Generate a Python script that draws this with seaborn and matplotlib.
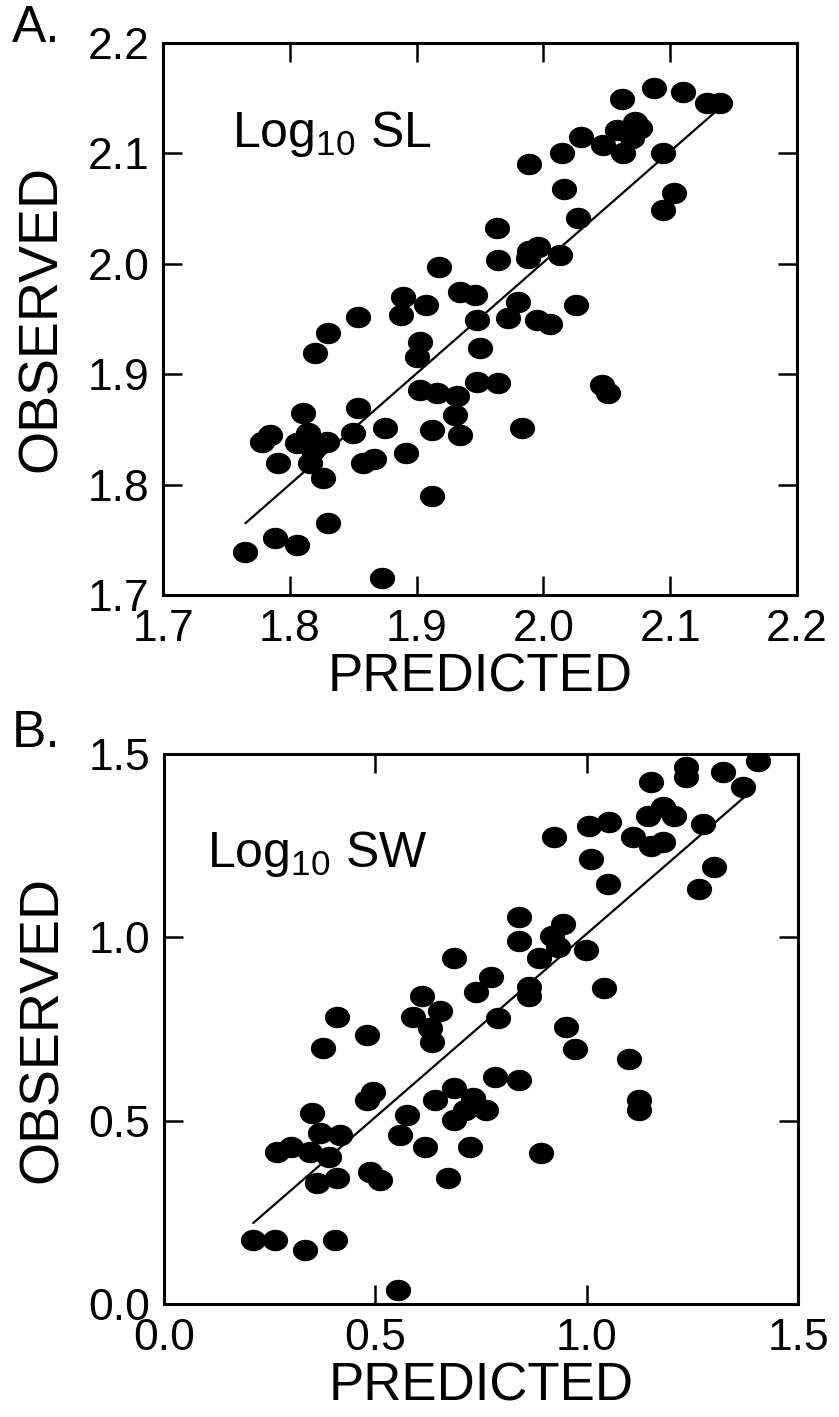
import numpy as np
import matplotlib
matplotlib.use("Agg")
import matplotlib.pyplot as plt
from matplotlib.path import Path
import seaborn as sns
import pandas as pd

# panel A: log10 SL, predicted vs observed
sl_pred = [1.765, 1.788, 1.806, 1.830, 1.873, 1.912, 1.778, 1.784, 1.810, 1.806,
           1.814, 1.829, 1.818, 1.791, 1.816, 1.826, 1.820, 1.830, 1.854, 1.850,
           1.875, 1.858, 1.866, 1.892, 1.854, 1.888, 1.889, 1.907, 1.918, 1.903,
           1.900, 1.903, 1.916, 1.932, 1.930, 1.912, 1.934, 1.934, 1.946, 1.948,
           1.950, 1.948, 1.964, 1.983, 1.972, 1.980, 1.995, 2.005, 2.026, 1.963,
           1.964, 1.989, 1.996, 1.988, 2.013, 2.016, 2.027, 1.989, 2.015, 2.030,
           2.047, 2.058, 2.072, 2.076, 2.070, 2.063, 2.062, 2.087, 2.110, 2.129,
           2.139, 2.094, 2.103, 2.094, 2.046, 2.051]
sl_obs = [1.739, 1.752, 1.745, 1.765, 1.715, 1.790, 1.839, 1.845, 1.865, 1.838,
          1.847, 1.839, 1.831, 1.820, 1.820, 1.806, 1.919, 1.937, 1.869, 1.847,
          1.851, 1.820, 1.823, 1.829, 1.952, 1.954, 1.970, 1.963, 1.997, 1.929,
          1.916, 1.886, 1.883, 1.880, 1.863, 1.849, 1.845, 1.974, 1.972, 1.949,
          1.924, 1.893, 1.892, 1.851, 1.951, 1.965, 1.949, 1.945, 1.963, 2.032,
          2.003, 2.012, 2.015, 2.005, 2.008, 2.068, 2.041, 2.090, 2.100, 2.115,
          2.108, 2.121, 2.128, 2.123, 2.114, 2.100, 2.149, 2.159, 2.156, 2.146,
          2.146, 2.100, 2.064, 2.049, 1.890, 1.883]
sl_line_x = [1.765, 2.135]
sl_line_y = [1.765, 2.137]

# panel B: log10 SW
sw_pred = [0.922, 1.152, 1.235, 1.235, 1.322, 1.405, 1.370, 1.145, 1.180, 1.206,
           1.109, 1.152, 1.180, 1.005, 1.052, 1.275, 1.009, 1.050, 1.301, 1.265,
           0.839, 0.839, 0.945, 0.919, 0.931, 0.998, 0.886, 0.685, 0.773, 0.737,
           0.863, 0.863, 1.040, 0.789, 0.950, 0.972, 1.100, 1.123, 1.123, 0.784,
           0.839, 0.893, 0.410, 0.481, 0.611, 0.590, 0.654, 0.377, 0.635, 0.630,
           0.495, 0.481, 0.351, 0.370, 0.417, 0.268, 0.300, 0.345, 0.390, 0.363,
           0.410, 0.488, 0.512, 0.211, 0.263, 0.334, 0.405, 0.554, 0.576, 0.559,
           0.618, 0.642, 0.685, 0.685, 0.673, 0.725, 0.732, 0.761, 0.712]
sw_obs = [1.273, 1.423, 1.464, 1.437, 1.451, 1.481, 1.410, 1.331, 1.355, 1.331,
          1.273, 1.249, 1.260, 1.303, 1.314, 1.309, 1.213, 1.145, 1.191, 1.131,
          1.057, 0.989, 1.036, 1.003, 0.973, 0.967, 0.945, 0.945, 0.893, 0.850,
          0.866, 0.839, 0.863, 0.781, 0.757, 0.697, 0.669, 0.557, 0.530, 0.620,
          0.612, 0.413, 0.784, 0.735, 0.839, 0.784, 0.798, 0.699, 0.716, 0.754,
          0.579, 0.557, 0.522, 0.467, 0.462, 0.415, 0.428, 0.415, 0.402, 0.331,
          0.344, 0.361, 0.339, 0.175, 0.175, 0.148, 0.175, 0.038, 0.516, 0.462,
          0.429, 0.557, 0.590, 0.503, 0.344, 0.429, 0.563, 0.530, 0.530]
sw_line_x = [0.211, 1.372]
sw_line_y = [0.221, 1.382]

sns.set_theme(style="ticks")
plt.rcParams["font.family"] = ["Liberation Sans", "DejaVu Sans"]
plt.rcParams["mathtext.fontset"] = "custom"
plt.rcParams["mathtext.rm"] = "Liberation Sans"
plt.rcParams["mathtext.it"] = "Liberation Sans:italic"
plt.rcParams["text.color"] = "black"
plt.rcParams["axes.labelcolor"] = "black"

# slightly flattened dot, like the printed figure
t = np.linspace(0, 2 * np.pi, 60)
ellipse = Path(np.column_stack([np.cos(t), 0.85 * np.sin(t)]), closed=True)

fig = plt.figure(figsize=(8.39, 14.17), dpi=100)
ax_a = fig.add_axes([0.1943, 0.5801, 0.7557, 0.3896])
ax_b = fig.add_axes([0.1955, 0.0797, 0.7557, 0.3881])

panels = [
    (ax_a, sl_pred, sl_obs, sl_line_x, sl_line_y, "SL", (1.7, 2.2),
     np.arange(1.7, 2.21, 0.1), (0.109, 0.812), "A.", 0.9975),
    (ax_b, sw_pred, sw_obs, sw_line_x, sw_line_y, "SW", (0.0, 1.5),
     np.arange(0.0, 1.51, 0.5), (0.068, 0.795), "B.", 0.4995),
]

for ax, px, py, lx, ly, name, lim, ticks, tpos, letter, ly_fig in panels:
    df = pd.DataFrame({"pred": px, "obs": py})
    sns.lineplot(x=lx, y=ly, ax=ax, color="black", linewidth=1.6)
    sns.scatterplot(data=df, x="pred", y="obs", ax=ax, marker=ellipse, s=330,
                    color="black", edgecolor="black", linewidth=0, zorder=3)
    ax.set_xlim(*lim)
    ax.set_ylim(*lim)
    ax.set_xticks(ticks)
    ax.set_yticks(ticks)
    ax.set_xticklabels([f"{v:.1f}" for v in ticks])
    ax.set_yticklabels([f"{v:.1f}" for v in ticks])
    ax.tick_params(direction="in", top=True, right=True, length=14, width=1.8,
                   labelsize=32, pad=10, colors="black")
    for sp in ax.spines.values():
        sp.set_linewidth(2.2)
        sp.set_color("black")
    ax.set_xlabel("PREDICTED", fontsize=38, labelpad=2)
    ax.set_ylabel("OBSERVED", fontsize=40, labelpad=14)
    ax.text(tpos[0], tpos[1], r"Log$_{10}$" + " " + name, transform=ax.transAxes,
            fontsize=36, va="baseline", ha="left")
    fig.text(0.014, ly_fig, letter, fontsize=37, va="top", ha="left")

fig.savefig("out.png", dpi=100)
